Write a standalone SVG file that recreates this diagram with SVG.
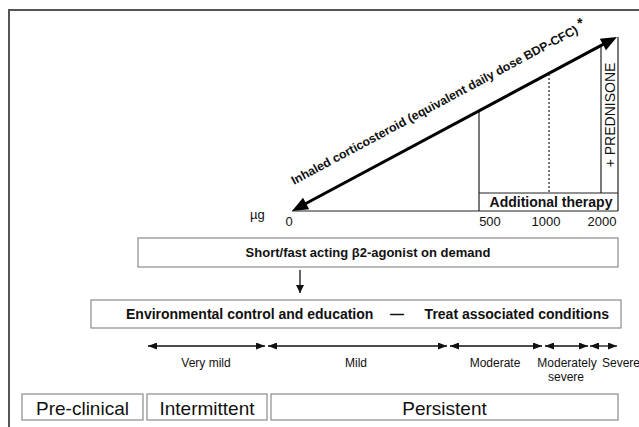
<svg xmlns="http://www.w3.org/2000/svg" width="639" height="427" viewBox="0 0 639 427">
<style>
text{font-family:"Liberation Sans",Arial,sans-serif;fill:#111}
.b{font-weight:bold}
.frame{stroke:#555;stroke-width:2;fill:none}
.box{fill:#fff;stroke:#8a8a8a;stroke-width:1.2}
.ln{stroke:#222;stroke-width:1.2;fill:none}
.sa{stroke:#111;stroke-width:1.3;fill:none;marker-start:url(#sh);marker-end:url(#sh)}
</style>
<defs>
<marker id="sh" markerUnits="userSpaceOnUse" markerWidth="9" markerHeight="7" refX="9" refY="3.5" orient="auto-start-reverse"><path d="M0,0 L9,3.5 L0,7 z" fill="#111"/></marker>
<marker id="dh" markerUnits="userSpaceOnUse" markerWidth="8" markerHeight="9" refX="8" refY="4" orient="auto"><path d="M0,0 L8,4 L0,8 z" fill="#111"/></marker>
</defs>
<g id="frame">
<line class="frame" x1="8" y1="10" x2="639" y2="10"/>
<line class="frame" x1="9" y1="10" x2="9" y2="427"/>
</g>
<g id="dose-scale">
<line class="ln" x1="292" y1="211" x2="618" y2="211"/>
<line class="ln" x1="618" y1="37" x2="618" y2="211"/>
<line class="ln" x1="479" y1="111" x2="479" y2="211"/>
<line class="ln" x1="479" y1="193" x2="618" y2="193"/>
<line class="ln" x1="549" y1="74" x2="549" y2="193" stroke-dasharray="2,2"/>
<line class="ln" x1="601" y1="46" x2="601" y2="193"/>
<text x="250" y="219" font-size="13">µg</text>
<text x="289" y="226" font-size="13" text-anchor="middle">0</text>
<text x="490" y="226" font-size="13" text-anchor="middle">500</text>
<text x="546" y="226" font-size="13" text-anchor="middle">1000</text>
<text x="602" y="226" font-size="13" text-anchor="middle">2000</text>
<text class="b" x="551" y="207" font-size="14" text-anchor="middle">Additional therapy</text>
<text transform="translate(615,115) rotate(-90)" font-size="14" text-anchor="middle">+ PREDNISONE</text>
</g>
<g id="ics-arrow">
<line x1="304" y1="204.5" x2="605" y2="43.4" stroke="#000" stroke-width="3"/>
<polygon points="617,37 605.97,50.28 599.83,38.82" fill="#000"/>
<polygon points="292,211 309.17,209.18 303.03,197.72" fill="#000"/>
<text class="b" transform="translate(294,185) rotate(-28.16)" font-size="12.3">Inhaled corticosteroid (equivalent daily dose BDP-CFC)</text>
<text class="b" x="577" y="28" font-size="14">*</text>
</g>
<g id="beta2-box">
<rect class="box" x="138" y="238" width="480" height="29"/>
<text class="b" x="368" y="257" font-size="13" text-anchor="middle">Short/fast acting β2-agonist on demand</text>
</g>
<g id="connectors">
<line x1="300" y1="270" x2="300" y2="293" stroke="#111" stroke-width="1.3" marker-end="url(#dh)"/>
</g>
<g id="environment-box">
<rect class="box" x="91" y="300" width="530" height="28"/>
<text class="b" x="126" y="319" font-size="14">Environmental control and education</text>
<text class="b" x="397" y="319" font-size="14" text-anchor="middle">—</text>
<text class="b" x="609" y="319" font-size="14" text-anchor="end">Treat associated conditions</text>
</g>
<g id="severity">
<line class="sa" x1="148" y1="346" x2="265" y2="346"/>
<line class="sa" x1="268" y1="346" x2="447" y2="346"/>
<line class="sa" x1="450" y1="346" x2="542" y2="346"/>
<line class="sa" x1="545" y1="346" x2="588" y2="346"/>
<line class="sa" x1="590" y1="346" x2="617" y2="346"/>
<text x="206" y="367" font-size="12" text-anchor="middle">Very mild</text>
<text x="356" y="367" font-size="12" text-anchor="middle">Mild</text>
<text x="495" y="367" font-size="12" text-anchor="middle">Moderate</text>
<text x="567" y="367" font-size="12" text-anchor="middle">Moderately</text>
<text x="566" y="381" font-size="12" text-anchor="middle">severe</text>
<text x="602" y="367" font-size="12">Severe</text>
</g>
<g id="pre-clinical">
<rect class="box" x="22" y="394" width="121" height="26"/>
<text x="82.5" y="415" font-size="19" text-anchor="middle">Pre-clinical</text>
</g>
<g id="intermittent">
<rect class="box" x="147" y="394" width="120" height="26"/>
<text x="207" y="415" font-size="19" text-anchor="middle">Intermittent</text>
</g>
<g id="persistent">
<rect class="box" x="271" y="394" width="347" height="26"/>
<text x="444.5" y="415" font-size="19" text-anchor="middle">Persistent</text>
</g>
</svg>
